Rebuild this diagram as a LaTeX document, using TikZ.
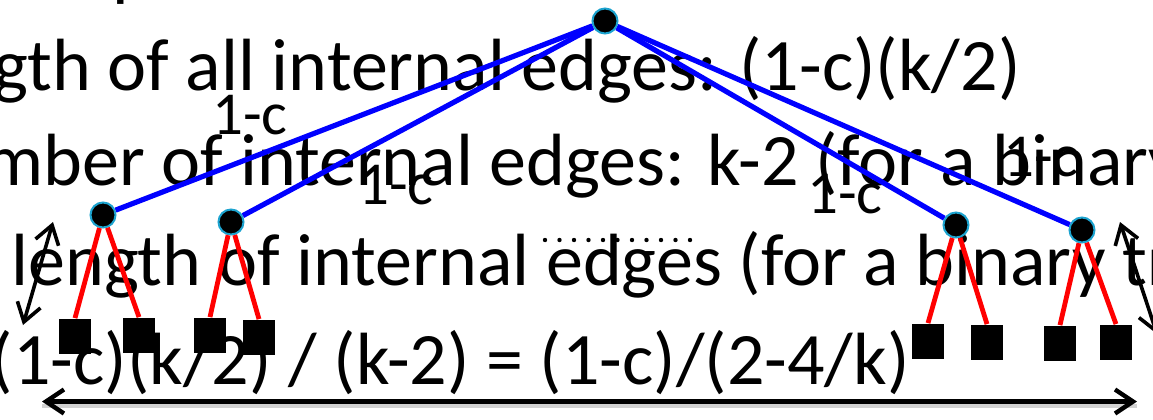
\documentclass[tikz,border=0pt]{standalone}
\usepackage{fontspec}
\setmainfont{Carlito}
\usetikzlibrary{arrows.meta}
\definecolor{edgeblue}{HTML}{0000FF}
\definecolor{edgered}{HTML}{FF0000}
\definecolor{ringx}{HTML}{1CA3CF}
\tikzset{
  line/.style={anchor=base west,inner sep=0pt,font=\fontsize{37}{44}\selectfont},
  lab/.style={anchor=base west,inner sep=0pt,font=\fontsize{30.5}{36}\selectfont},
  inode/.style={circle,fill=black,draw=ringx,line width=1pt,minimum size=12.5pt,inner sep=0pt},
  leaf/.style={rectangle,fill=black,minimum width=16pt,minimum height=17.5pt,inner sep=0pt},
  be/.style={edgeblue,line width=2.6pt},
  re/.style={edgered,line width=2.4pt},
  dar/.style={{Straight Barb[length=9pt,width=12pt]}-{Straight Barb[length=9pt,width=12pt]},line width=1.8pt}
}
\begin{document}
\begin{tikzpicture}[x=0.5pt,y=-0.5pt]
\clip (0,0) rectangle (1153,419);
% slide text
\node[line] (t0) at (112,-8) {p};
\node[line,anchor=base east] (t1) at (1021,90) {gth of all internal edges: (1-c)(k/2)};
\node[line] (t2) at (-16,185) {mber of internal edges: k-2 (for a binary tree)};
\node[line] (t3) at (11,285) {length of internal edges (for a binary tree)};
\node[line,anchor=base east] (t4) at (910,384) {(1-c)(k/2) / (k-2) = (1-c)/(2-4/k)};
% tree
\node[inode] (root) at (605,21) {};
\node[inode] (a) at (103,215) {};
\node[inode] (b) at (231,222) {};
\node[inode] (c) at (956,225) {};
\node[inode] (d) at (1082,230) {};
\node[leaf] (l1) at (75,336) {};
\node[leaf] (l2) at (139,335) {};
\node[leaf] (l3) at (210,335) {};
\node[leaf] (l4) at (259,337) {};
\node[leaf] (l5) at (928,341) {};
\node[leaf] (l6) at (987,342) {};
\node[leaf] (l7) at (1060,343) {};
\node[leaf] (l8) at (1116,342) {};
\foreach \n in {a,b,c,d}
  \draw[be] (root) -- (\n);
\draw[re] (a) -- (l1.north);
\draw[re] (a) -- (l2.north);
\draw[re] (b) -- (l3.north);
\draw[re] (b) -- (l4.north);
\draw[re] (c) -- (l5.north);
\draw[re] (c) -- (l6.north);
\draw[re] (d) -- (l7.north);
\draw[re] (d) -- (l8.north);
% edge weights
\node[lab] (w1) at (212,134) {1-c};
\node[lab] (w2) at (358,204) {1-c};
\node[lab] (w3) at (807,213) {1-c};
\node[lab] (w4) at (1003,176) {1-c};
% more subtrees
\foreach \i in {0,...,10}
  \fill (545+14.5*\i,240) circle (1.1pt);
% heights and width
\coordinate (lt) at (53,222);
\coordinate (lb) at (23,325);
\draw[dar] (lt) -- (lb);
\coordinate (rt) at (1120,222);
\coordinate (rb) at (1157,334);
\draw[dar] (rt) -- (rb);
\coordinate (bl) at (42,401.5);
\coordinate (br) at (1137,401.5);
\draw[gray!35,line width=2pt] ([yshift=-2pt]bl) -- ([yshift=-2pt]br);
\draw[dar,line width=2.2pt] (bl) -- (br);
\end{tikzpicture}
\end{document}
